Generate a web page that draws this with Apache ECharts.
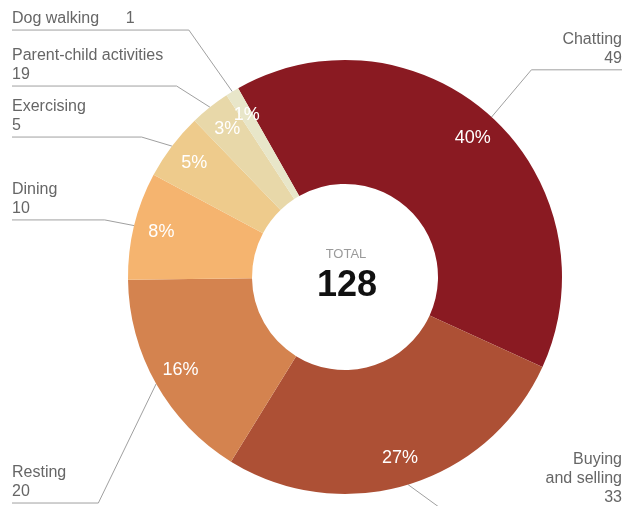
<!DOCTYPE html>
<html>
<head>
<meta charset="utf-8">
<script src="https://cdn.jsdelivr.net/npm/echarts@6/dist/echarts.min.js"></script>
<style>
  html, body { margin: 0; padding: 0; background: #fff; }
  #chart { width: 632px; height: 506px; }
</style>
</head>
<body>
<div id="chart"></div>
<script>
// Activities, their share of the ring (percent) and the counts shown beside them
const categories = ['Chatting', 'Buying and selling', 'Resting', 'Dining', 'Exercising', 'Parent-child activities', 'Dog walking'];
const shares = [40, 27, 16, 8, 5, 3, 1];
const counts = [49, 33, 20, 10, 5, 19, 1];
const total = 128;

const colors = ['#8a1a22', '#ad5035', '#d4834f', '#f5b46f', '#eecb8c', '#e8d8a9', '#e8e6c9'];
const FONT = '"Liberation Sans", Arial, Helvetica, sans-serif';

const W = 632, H = 506;
const cx = 345, cy = 277;
const rInner = 93, rOuter = 217;
// how far each leader runs out along the radius before it turns flat
const leaderLen = [64, 26, 242, 24, 15, 27, 72];

function labelText(name, count) {
  if (name === 'Dog walking') return name + '      ' + count;
  if (name === 'Buying and selling') return 'Buying\nand selling\n' + count;
  return name + '\n' + count;
}

const chart = echarts.init(document.getElementById('chart'), null, { renderer: 'canvas' });

chart.setOption({
  backgroundColor: '#ffffff',
  animation: false,
  series: [
    {
      type: 'pie',
      center: [cx, cy],
      radius: [rInner, rOuter],
      startAngle: 119.5,
      clockwise: true,
      silent: true,
      avoidLabelOverlap: false,
      emphasis: { disabled: true },
      data: categories.map((name, i) => ({
        name,
        value: shares[i],
        itemStyle: { color: colors[i] },
        labelLine: { length: leaderLen[i] }
      })),
      itemStyle: { borderWidth: 0 },
      label: {
        show: true,
        position: 'outside',
        alignTo: 'edge',
        edgeDistance: 12,
        color: '#666666',
        fontSize: 16,
        lineHeight: 19,
        fontFamily: FONT,
        formatter: p => labelText(p.name, counts[p.dataIndex])
      },
      labelLine: {
        show: true,
        length: 15,
        length2: 0,
        lineStyle: { color: '#a0a0a0', width: 1 }
      },
      labelLayout: function (params) {
        const pts = params.labelLinePoints;
        if (!pts) return {};
        const p0 = pts[0];
        const lineY = pts[1][1];
        const left = p0[0] < cx;
        const dir = left ? -1 : 1;
        const bendX = p0[0] + dir * (28 + 0.25 * Math.abs(lineY - p0[1]));
        const edgeX = left ? 12 : W - 10;
        return {
          x: edgeX,
          y: lineY - 2,
          align: left ? 'left' : 'right',
          verticalAlign: 'bottom',
          labelLinePoints: [p0, [bendX, lineY], [edgeX, lineY]]
        };
      }
    },
    {
      // percentage labels riding in the outer part of the ring
      type: 'pie',
      center: [cx, cy],
      radius: [155, rOuter],
      startAngle: 119.5,
      clockwise: true,
      silent: true,
      avoidLabelOverlap: false,
      minShowLabelAngle: 0,
      emphasis: { disabled: true },
      data: categories.map((name, i) => ({ name, value: shares[i] })),
      itemStyle: { color: 'rgba(0,0,0,0)', borderWidth: 0 },
      label: {
        show: true,
        position: 'inside',
        color: '#ffffff',
        fontSize: 18,
        fontFamily: FONT,
        textBorderWidth: 0,
        overflow: 'none',
        formatter: p => Math.round(p.percent) + '%'
      },
      labelLine: { show: false },
      labelLayout: { hideOverlap: false, moveOverlap: null }
    }
  ],
  graphic: [
    {
      type: 'text',
      x: cx + 1,
      y: cy - 23,
      silent: true,
      style: {
        text: 'TOTAL',
        fill: '#9a9a9a',
        font: '13px ' + FONT,
        align: 'center',
        verticalAlign: 'middle'
      }
    },
    {
      type: 'text',
      x: cx + 2,
      y: cy + 9,
      silent: true,
      style: {
        text: String(total),
        fill: '#111111',
        font: 'bold 36px ' + FONT,
        align: 'center',
        verticalAlign: 'middle'
      }
    }
  ]
});
</script>
</body>
</html>
